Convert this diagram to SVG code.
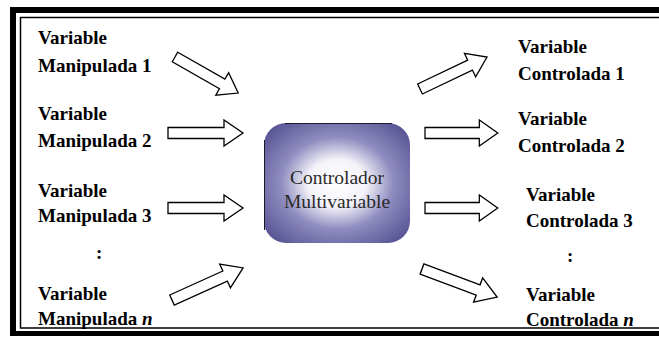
<svg xmlns="http://www.w3.org/2000/svg" xmlns:xlink="http://www.w3.org/1999/xlink" width="659" height="337" viewBox="0 0 659 337">
<style>
.lbl{font-family:"Liberation Serif","Times New Roman",serif;font-weight:bold;font-size:19px;fill:#000}
.ctr{font-family:"Liberation Serif","Times New Roman",serif;font-size:19.5px;fill:#2a2a2a;text-anchor:middle}
.arr{fill:#fff;stroke:#000;stroke-width:1.3;stroke-linejoin:miter}
</style>
<defs>
<path id="arrow" d="M0,-5.5 H56 V-13 L75,0 L56,13 V5.5 H0 Z"/>
<radialGradient id="g" cx="0.5" cy="0.5" r="0.62">
<stop offset="0" stop-color="#ffffff"/>
<stop offset="0.32" stop-color="#f4f3f9"/>
<stop offset="0.62" stop-color="#8f8cc0"/>
<stop offset="1" stop-color="#5c5897"/>
</radialGradient>
</defs>
<rect width="659" height="337" fill="#fff"/>
<g id="frame" fill="#000">
<rect x="10" y="7" width="649" height="6"/>
<rect x="10" y="7" width="6" height="329"/>
<rect x="10" y="331" width="649" height="5"/>
<path d="M20,17.5 H659 M20.5,17 V328.5 M20,328 H659" stroke="#000" stroke-width="1.5" fill="none"/>
</g>
<g id="controlador">
<rect x="264" y="123" width="146" height="120" rx="22" fill="url(#g)"/>
<path d="M285,123.5 H392 M264.5,140 V230" stroke="#1a1a2a" stroke-width="1" fill="none"/>
<text class="ctr" x="337" y="184">Controlador</text>
<text class="ctr" x="337" y="208">Multivariable</text>
</g>
<g id="in1"><text class="lbl" x="38" y="44">Variable</text><text class="lbl" x="38" y="72">Manipulada 1</text></g>
<g id="in2"><text class="lbl" x="38" y="120">Variable</text><text class="lbl" x="38" y="147">Manipulada 2</text></g>
<g id="in3"><text class="lbl" x="38" y="197">Variable</text><text class="lbl" x="38" y="222">Manipulada 3</text></g>
<g id="indots"><text class="lbl" x="96" y="259">:</text></g>
<g id="inn"><text class="lbl" x="38" y="300">Variable</text><text class="lbl" x="38" y="325">Manipulada <tspan font-style="italic">n</tspan></text></g>
<g id="out1"><text class="lbl" x="518" y="53">Variable</text><text class="lbl" x="518" y="80">Controlada 1</text></g>
<g id="out2"><text class="lbl" x="518" y="125">Variable</text><text class="lbl" x="518" y="152">Controlada 2</text></g>
<g id="out3"><text class="lbl" x="526" y="201">Variable</text><text class="lbl" x="526" y="227">Controlada 3</text></g>
<g id="outdots"><text class="lbl" x="567" y="262">:</text></g>
<g id="outn"><text class="lbl" x="526" y="301">Variable</text><text class="lbl" x="526" y="326">Controlada <tspan font-style="italic">n</tspan></text></g>
<g id="connectors" class="arr">
<use xlink:href="#arrow" transform="translate(175,57) rotate(29.7) scale(0.97,1)"/>
<use xlink:href="#arrow" transform="translate(168,133)"/>
<use xlink:href="#arrow" transform="translate(168,208)"/>
<use xlink:href="#arrow" transform="translate(172,300) rotate(-24.3) scale(1.04,1)"/>
<use xlink:href="#arrow" transform="translate(420,89) rotate(-25.5) scale(0.99,1)"/>
<use xlink:href="#arrow" transform="translate(425,133) scale(0.97,1)"/>
<use xlink:href="#arrow" transform="translate(425,208) scale(0.97,1)"/>
<use xlink:href="#arrow" transform="translate(422,269) rotate(20.5) scale(1.07,1)"/>
</g>
</svg>
